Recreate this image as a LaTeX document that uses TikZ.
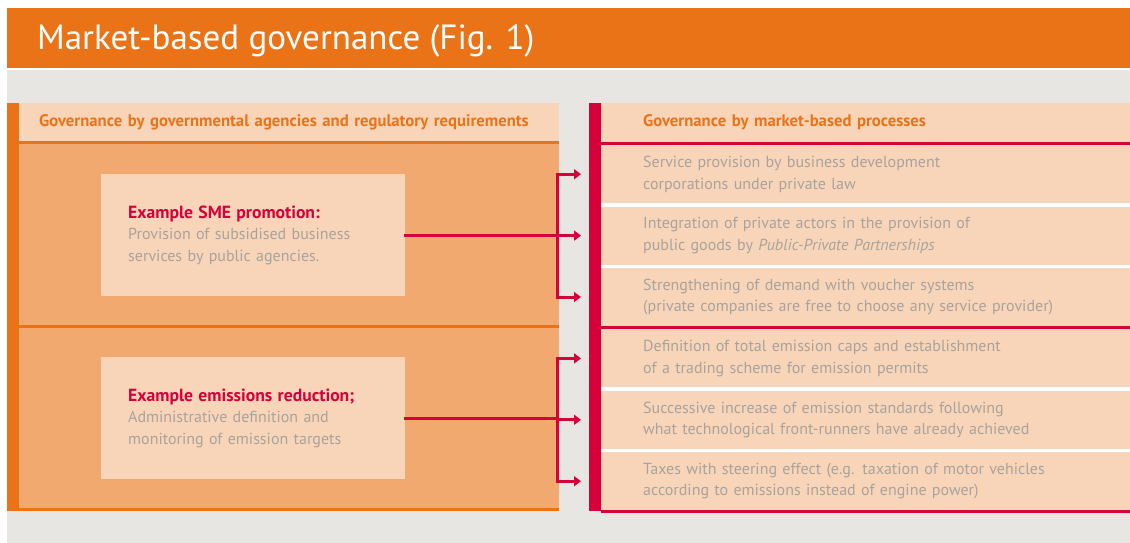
\documentclass[tikz,border=0pt]{standalone}
\usepackage{fontspec}
\setmainfont{PT Sans}
\usetikzlibrary{arrows.meta,positioning,calc}
\definecolor{titleorange}{HTML}{EA7317}
\definecolor{bggrey}{HTML}{E8E6E2}
\definecolor{peach}{HTML}{F8D5B8}
\definecolor{midorange}{HTML}{F2A970}
\definecolor{crimson}{HTML}{D6003B}
\definecolor{textgrey}{HTML}{A8A39E}
\newcommand{\figbody}{\fontsize{16pt}{21.5pt}\selectfont}
\newcommand{\fighead}{\fontsize{16.7pt}{18pt}\selectfont\bfseries}
\newcommand{\figlead}{\fontsize{17.6pt}{21.5pt}\selectfont\bfseries\color{crimson}}
\newcommand{\figtitle}{\fontsize{35pt}{38pt}\selectfont}
\tikzset{
	band/.style={
		rectangle,
		fill=peach,
		anchor=north west,
		inner ysep=0pt,
		align=left,
		text=titleorange,
		font=\fighead,
	},
	row/.style={
		rectangle,
		fill=peach,
		minimum width=529pt,
		minimum height=58pt,
		text width=445pt,
		inner xsep=42pt,
		inner ysep=0pt,
		align=left,
		text=textgrey,
		font=\figbody,
	},
	example/.style={
		rectangle,
		fill=peach,
		anchor=north west,
		minimum width=304pt,
		minimum height=122pt,
		text width=250pt,
		inner xsep=27pt,
		inner ysep=0pt,
		align=left,
		text=textgrey,
		font=\figbody,
	},
	spine/.style={
		line width=3pt,
		line cap=rect,
		crimson,
	},
	link/.style={
		-{Triangle[length=7pt,width=10pt]},
		line width=3pt,
		crimson,
	}
}

\begin{document}
\begin{tikzpicture}[x=1pt,y=-1pt,node distance=3pt]
\useasboundingbox (0,0) rectangle (1130,543);

% backgrounds
\fill[bggrey] (7,70) rectangle (1130,543);
\fill[titleorange] (7,8) rectangle (1130,68);
\node[anchor=west,inner sep=0pt,text=white,font=\figtitle] (title) at (37,41) {Market-based governance (Fig. 1)};

% left panel
\fill[titleorange] (7,103) rectangle (19,511);
\fill[midorange] (19,141) rectangle (559,511);
\fill[titleorange] (19,141) rectangle (559,144);
\fill[titleorange] (19,325) rectangle (559,328);
\fill[titleorange] (19,508) rectangle (559,511);
\node[band,minimum width=540pt,minimum height=38pt,text width=500pt,inner xsep=20pt] (gov) at (19,103)
  {Governance by governmental agencies and regulatory requirements};

\node[example] (sme) at (101,174)
  {{\figlead Example SME promotion:}\\
   Provision of subsidised business\\
   services by public agencies.};
\node[example] (emis) at (101,357)
  {{\figlead Example emissions reduction;}\\
   Administrative definition and\\
   monitoring of emission targets};

% right panel
\fill[crimson] (589,103) rectangle (601,511);
\fill[white] (601,145) rectangle (1130,508);
\node[band,minimum width=529pt,minimum height=39pt,text width=445pt,inner xsep=42pt] (mkt) at (601,103)
  {Governance by market-based processes};
\fill[crimson] (601,142) rectangle (1130,145);

\node[row,anchor=north west] (r1) at (601,145)
  {Service provision by business development\\ corporations under private law};
\node[row] (r2) [below=of r1]
  {Integration of private actors in the provision of\\ public goods by \textit{Public-Private Partnerships}};
\node[row] (r3) [below=of r2]
  {Strengthening of demand with voucher systems\\ (private companies are free to choose any service provider)};
\node[row] (r4) [below=of r3]
  {Definition of total emission caps and establishment\\ of a trading scheme for emission permits};
\node[row] (r5) [below=of r4]
  {Successive increase of emission standards following\\ what technological front-runners have already achieved};
\node[row] (r6) [below=of r5]
  {Taxes with steering effect (e.g. taxation of motor vehicles\\ according to emissions instead of engine power)};

\fill[crimson] (r3.south west) rectangle (r4.north east);
\fill[crimson] (r6.south west) rectangle ++(529,3);

% connectors
\coordinate (bus) at (557,0);
\draw[spine] (sme.east) -- (sme.east -| bus);
\draw[spine] (bus |- r1.west) -- (bus |- r3.west);
\foreach \r in {r1,r2,r3}
  \draw[link] (bus |- \r.west) -- ([xshift=-20pt]\r.west);

\draw[spine] (emis.east) -- (emis.east -| bus);
\draw[spine] (bus |- r4.west) -- (bus |- r6.west);
\foreach \r in {r4,r5,r6}
  \draw[link] (bus |- \r.west) -- ([xshift=-20pt]\r.west);

\end{tikzpicture}
\end{document}
